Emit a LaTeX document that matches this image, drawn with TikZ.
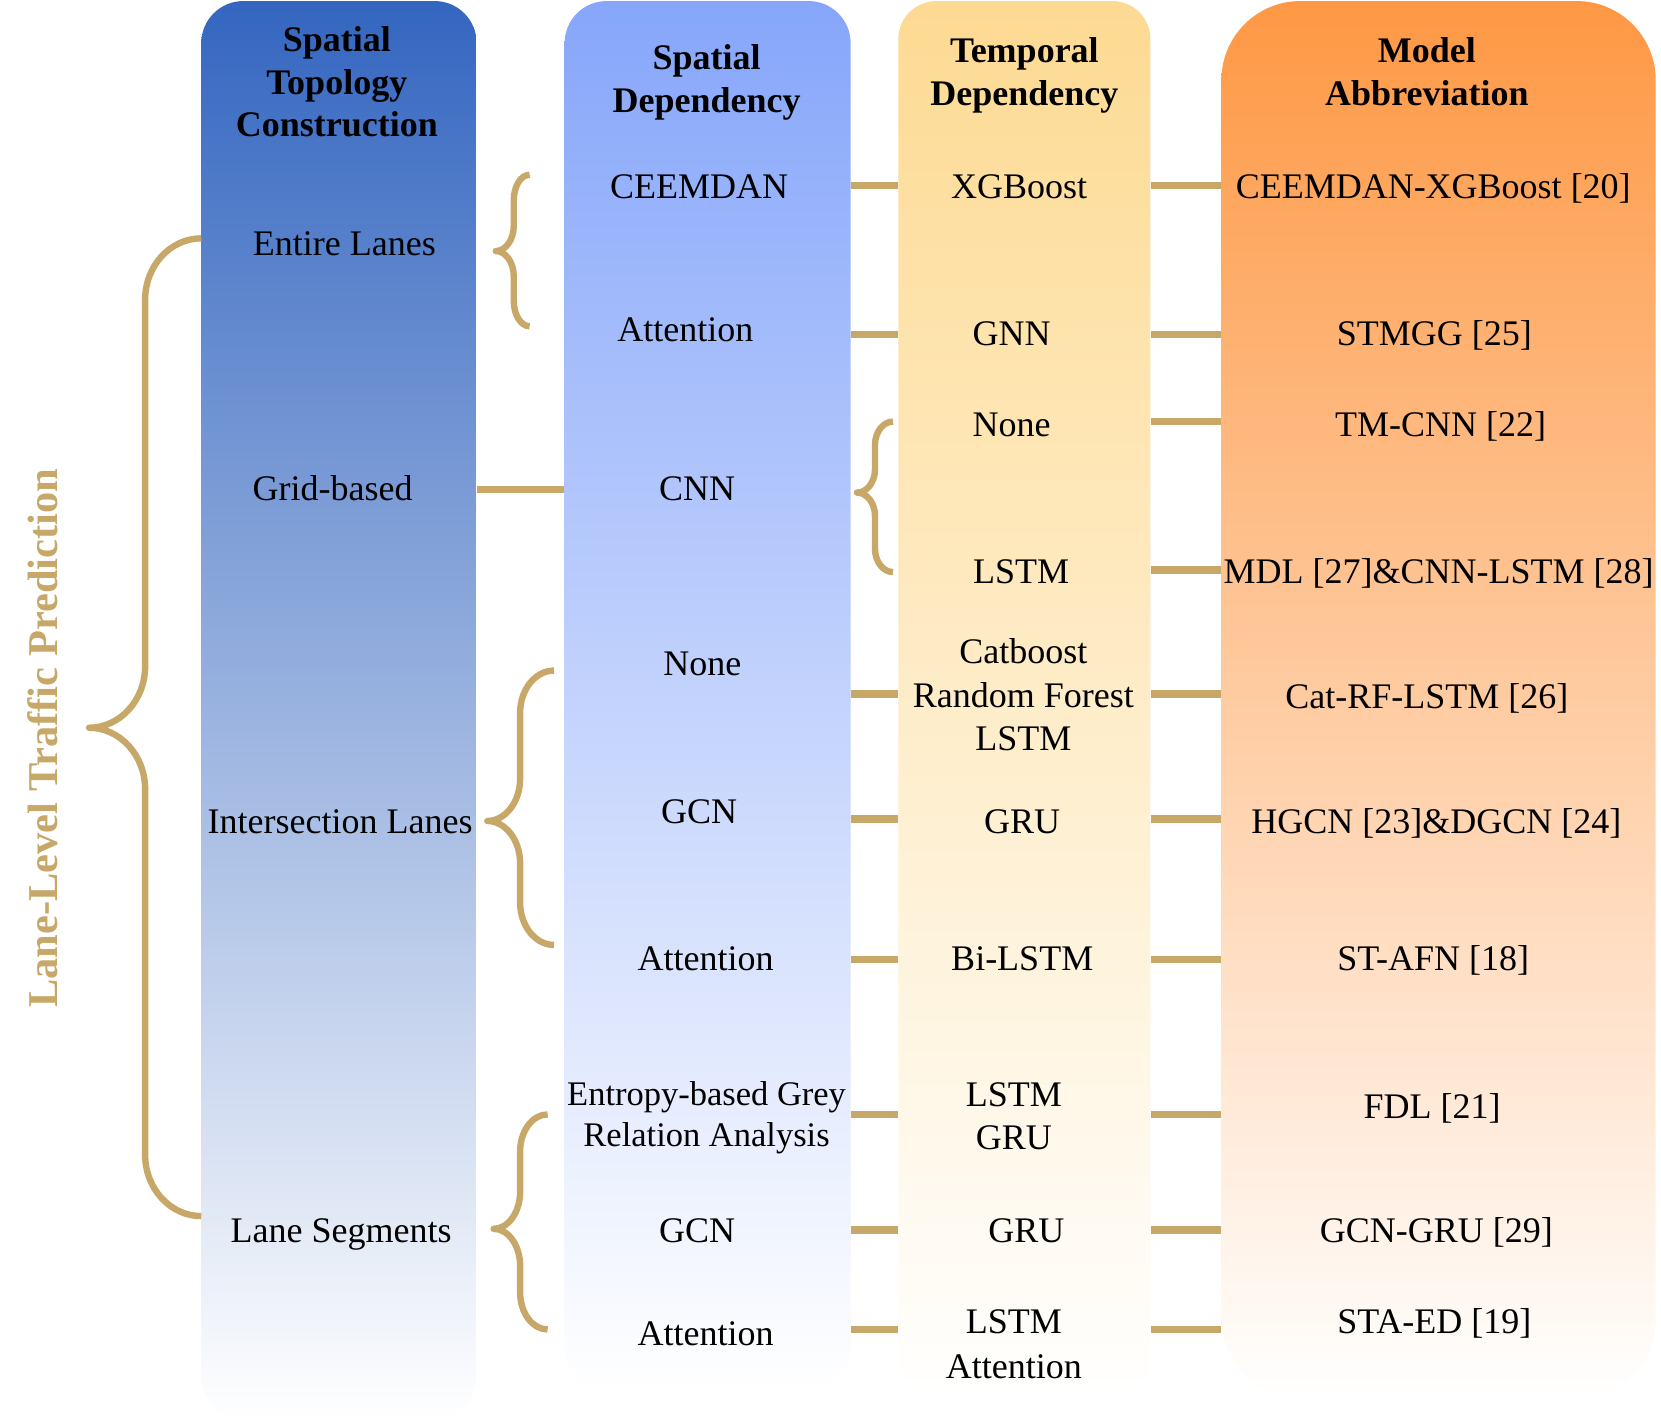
\documentclass[tikz,border=0pt]{standalone}
\usepackage{fontspec}
\setmainfont{Liberation Serif}
\definecolor{gold}{RGB}{200,168,104}
\definecolor{c1top}{RGB}{52,102,192}
\definecolor{c2top}{RGB}{134,166,250}
\definecolor{c3top}{RGB}{253,218,146}
\definecolor{c4top}{RGB}{254,152,68}
\newcommand{\goldbrace}[7]{% xe xv xt ytop ymid ybot r
  \draw[gbrace] (#1,#4) .. controls ({#1-0.552*(#1-#2)},#4) and (#2,{#4+0.448*#7}) .. (#2,{#4+#7})
    -- (#2,{#5-#7}) .. controls (#2,{#5-0.448*#7}) and ({#3+0.552*(#2-#3)},#5) .. (#3,#5)
    .. controls ({#3+0.552*(#2-#3)},#5) and (#2,{#5+0.448*#7}) .. (#2,{#5+#7})
    -- (#2,{#6-#7}) .. controls (#2,{#6-0.448*#7}) and ({#1-0.552*(#1-#2)},#6) .. (#1,#6);}
\begin{document}
\begin{tikzpicture}[x=1.0593pt,y=-1.0593pt,
  col/.style={inner sep=0pt, bottom color=white, draw=none},
  lbl/.style={font=\fontsize{36}{43}\selectfont, inner sep=0pt, text height=23.8pt, text depth=0pt},
  hdr/.style={lbl, font=\bfseries\fontsize{36}{43}\selectfont},
  link/.style={draw=gold, line width=7.4pt},
  gbrace/.style={draw=gold, line width=6.4pt, line join=round}]
\useasboundingbox (0,0) rectangle (1568,1347);
% columns
\node[col, top color=c1top, minimum width=275.4pt, minimum height=1418.4pt, rounded corners=42pt] (c1) at (320,670.5) {};
\node[col, top color=c2top, minimum width=286pt, minimum height=1388.7pt, rounded corners=42pt] (c2) at (668,656.5) {};
\node[col, top color=c3top, minimum width=252.1pt, minimum height=1397.2pt, rounded corners=38pt] (c3) at (967,660.5) {};
\node[col, top color=c4top, minimum width=434.3pt, minimum height=1397.2pt, rounded corners=79pt] (c4) at (1358,660.5) {};
% rows
\coordinate (rA) at (0,175);
\coordinate (rB) at (0,316);
\coordinate (rC) at (0,398);
\coordinate (rD) at (0,538);
\coordinate (rE) at (0,655);
\coordinate (rF) at (0,773);
\coordinate (rG) at (0,906);
\coordinate (rH) at (0,1052);
\coordinate (rI) at (0,1161);
\coordinate (rJ) at (0,1255);
\coordinate (rK) at (0,462);
% connectors
\draw[link] (c1.east |- rK) -- (c2.west |- rK);
\foreach \r in {rA,rB,rE,rF,rG,rH,rI,rJ} {\draw[link] (c2.east |- \r) -- (c3.west |- \r);}
\foreach \r in {rA,rB,rC,rD,rE,rF,rG,rH,rI,rJ} {\draw[link] (c3.east |- \r) -- (c4.west |- \r);}
% braces
\goldbrace{190}{137}{84}{225}{687}{1148}{58}
\goldbrace{500}{485}{468}{165}{237}{308}{24}
\goldbrace{523}{491}{460}{633}{775}{892}{40}
\goldbrace{517}{491}{466}{1052}{1160}{1255}{35}
\goldbrace{843}{826}{809}{398}{465}{540}{22}
% title
\node[rotate=90, text=gold, font=\bfseries\fontsize{42.5}{50}\selectfont, inner sep=0pt] (title) at (40,697) {Lane-Level Traffic Prediction};
% column 1
\node[hdr] (h1a) at (318,37) {Spatial};
\node[hdr] (h1b) at (318,78) {Topology};
\node[hdr] (h1c) at (318,118) {Construction};
\node[lbl] (el) at (325,230) {Entire Lanes};
\node[lbl] (gb) at (314,461) {Grid-based};
\node[lbl] (il) at (321,776) {Intersection Lanes};
\node[lbl] (ls) at (322,1162) {Lane Segments};
% column 2
\node[hdr] (h2a) at (667,54) {Spatial};
\node[hdr] (h2b) at (667,95) {Dependency};
\node[lbl] (s1) at (660,176) {CEEMDAN};
\node[lbl] (s2) at (647,311) {Attention};
\node[lbl] (s3) at (658,461) {CNN};
\node[lbl] (s4) at (663,626) {None};
\node[lbl] (s5) at (660,766) {GCN};
\node[lbl] (s6) at (666,905) {Attention};
\node[lbl, font=\fontsize{34.5}{41}\selectfont] (s7a) at (667,1032) {Entropy-based Grey};
\node[lbl, font=\fontsize{34.5}{41}\selectfont] (s7b) at (667,1071) {Relation Analysis};
\node[lbl] (s8) at (658,1162) {GCN};
\node[lbl] (s9) at (666,1259) {Attention};
% column 3
\node[hdr] (h3a) at (967,48) {Temporal};
\node[hdr] (h3b) at (967,88) {Dependency};
\node[lbl] (t1) at (962,176) {XGBoost};
\node[lbl] (t2) at (955,315) {GNN};
\node[lbl] (t3) at (955,401) {None};
\node[lbl] (t4) at (964,540) {LSTM};
\node[lbl] (t5a) at (966,615) {Catboost};
\node[lbl] (t5b) at (966,657) {Random Forest};
\node[lbl] (t5c) at (966,697) {LSTM};
\node[lbl] (t6) at (965,776) {GRU};
\node[lbl] (t7) at (965,905) {Bi-LSTM};
\node[lbl] (t8a) at (957,1033) {LSTM};
\node[lbl] (t8b) at (957,1074) {GRU};
\node[lbl] (t9) at (969,1162) {GRU};
\node[lbl] (t10a) at (957,1248) {LSTM};
\node[lbl] (t10b) at (957,1290) {Attention};
% column 4
\node[hdr] (h4a) at (1347,48) {Model};
\node[hdr] (h4b) at (1347,88) {Abbreviation};
\node[lbl] (m1) at (1353,176) {CEEMDAN-XGBoost [20]};
\node[lbl] (m2) at (1354,315) {STMGG [25]};
\node[lbl] (m3) at (1360,401) {TM-CNN [22]};
\node[lbl] (m4) at (1358,540) {MDL [27]\&CNN-LSTM [28]};
\node[lbl] (m5) at (1347,658) {Cat-RF-LSTM [26]};
\node[lbl] (m6) at (1356,776) {HGCN [23]\&DGCN [24]};
\node[lbl] (m7) at (1353,905) {ST-AFN [18]};
\node[lbl] (m8) at (1352,1045) {FDL [21]};
\node[lbl] (m9) at (1356,1162) {GCN-GRU [29]};
\node[lbl] (m10) at (1354,1248) {STA-ED [19]};
\end{tikzpicture}
\end{document}
